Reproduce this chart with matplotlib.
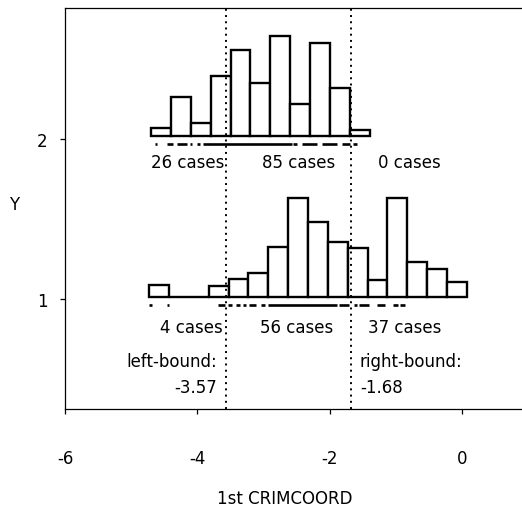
import matplotlib
matplotlib.use("Agg")
import matplotlib.pyplot as plt

# ---- data ----
top_bin_start = -4.70
bot_bin_start = -4.73
bin_width = 0.30
top_heights = [0.048, 0.246, 0.084, 0.375, 0.536, 0.334, 0.625, 0.198, 0.584, 0.302, 0.038]
bot_heights = [0.079, 0.0, 0.0, 0.073, 0.114, 0.152, 0.3125, 0.625, 0.473, 0.348, 0.31,
               0.108, 0.619, 0.223, 0.181, 0.098]
top_base = 2.02
bot_base = 1.01

# rug segments (data x intervals)
top_rug = [(-4.640, -4.606), (-4.464, -4.373), (-4.313, -4.162), (-4.112, -4.077),
           (-4.011, -3.961), (-3.911, -2.575), (-2.551, -2.500), (-2.424, -2.198),
           (-2.122, -1.896), (-1.820, -1.695), (-1.645, -1.594)]
bot_rug = [(-4.728, -4.693), (-4.465, -4.430), (-3.685, -3.585), (-3.534, -3.474),
           (-3.414, -3.364), (-3.313, -3.263), (-3.213, -3.112), (-3.036, -2.986),
           (-2.940, -1.884), (-1.863, -1.712), (-1.638, -1.587), (-1.562, -1.412),
           (-1.286, -1.160), (-1.038, -0.965), (-0.940, -0.864)]
top_rug_y = 1.972
bot_rug_y = 0.964

left_bound = -3.57
right_bound = -1.68

xticks = [-6, -4, -2, 0]
yticks = [1, 2]

top_labels = ["26 cases", "85 cases", "0 cases"]
bot_labels = ["4 cases", "56 cases", "37 cases"]

# ---- figure ----
W, H = 522, 510
fig = plt.figure(figsize=(W / 100, H / 100), dpi=100)
plt.rcParams['font.family'] = ['DejaVu Sans']

left_px, right_px = 65, 65 + 7 * 66.2
bottom_px, top_px = 100, 501
ax = fig.add_axes([left_px / W, bottom_px / H, (right_px - left_px) / W, (top_px - bottom_px) / H])
ax.set_xlim(-6, 1.0)
ax.set_ylim(0.3125, 2.82)

for s in ['left', 'bottom', 'top']:
    ax.spines[s].set_linewidth(0.9)
ax.spines['right'].set_visible(False)

fs = 12
ax.set_xticks(xticks)
ax.set_xticklabels([str(t) for t in xticks], fontsize=fs)
ax.set_yticks(yticks)
ax.set_yticklabels([str(t) for t in yticks], fontsize=fs)
ax.tick_params(axis='x', length=3.6, width=0.9, pad=25)
ax.tick_params(axis='y', length=3.6, width=0.9, pad=9)

# histograms
top_x = [top_bin_start + i * bin_width for i in range(len(top_heights))]
bot_x = [bot_bin_start + i * bin_width for i in range(len(bot_heights))]
ax.bar(top_x, top_heights, width=bin_width, bottom=top_base, align='edge',
       facecolor='white', edgecolor='black', linewidth=1.7, zorder=3)
ax.bar(bot_x, bot_heights, width=bin_width, bottom=bot_base, align='edge',
       facecolor='white', edgecolor='black', linewidth=1.7, zorder=3)

# rugs
for a, b in top_rug:
    ax.plot([a, b], [top_rug_y, top_rug_y], color='black', lw=1.9, solid_capstyle='butt', zorder=4)
for a, b in bot_rug:
    ax.plot([a, b], [bot_rug_y, bot_rug_y], color='black', lw=1.9, solid_capstyle='butt', zorder=4)

# bounds
for xb in (left_bound, right_bound):
    ax.axvline(xb, color='black', lw=1.4, linestyle=(0, (1, 2.2)), zorder=5)

# texts
ty, by = 1.856, 0.825
ax.text(-3.60, ty, top_labels[0], ha='right', va='center', fontsize=fs)
ax.text(-2.465, ty, top_labels[1], ha='center', va='center', fontsize=fs)
ax.text(-1.272, ty, top_labels[2], ha='left', va='center', fontsize=fs)
ax.text(-3.618, by, bot_labels[0], ha='right', va='center', fontsize=fs)
ax.text(-2.495, by, bot_labels[1], ha='center', va='center', fontsize=fs)
ax.text(-1.418, by, bot_labels[2], ha='left', va='center', fontsize=fs)
ax.text(-3.70, 0.614, "left-bound:", ha='right', va='center', fontsize=fs)
ax.text(-3.70, 0.448, f"{left_bound:.2f}", ha='right', va='center', fontsize=fs)
ax.text(-1.544, 0.614, "right-bound:", ha='left', va='center', fontsize=fs)
ax.text(-1.544, 0.448, f"{right_bound:.2f}", ha='left', va='center', fontsize=fs)

fig.text(14 / W, 1 - 205 / H, "Y", ha='center', va='center', fontsize=fs)
fig.text(285 / W, 1 - 499 / H, "1st CRIMCOORD", ha='center', va='center', fontsize=fs)

fig.savefig("out.png", dpi=100)
